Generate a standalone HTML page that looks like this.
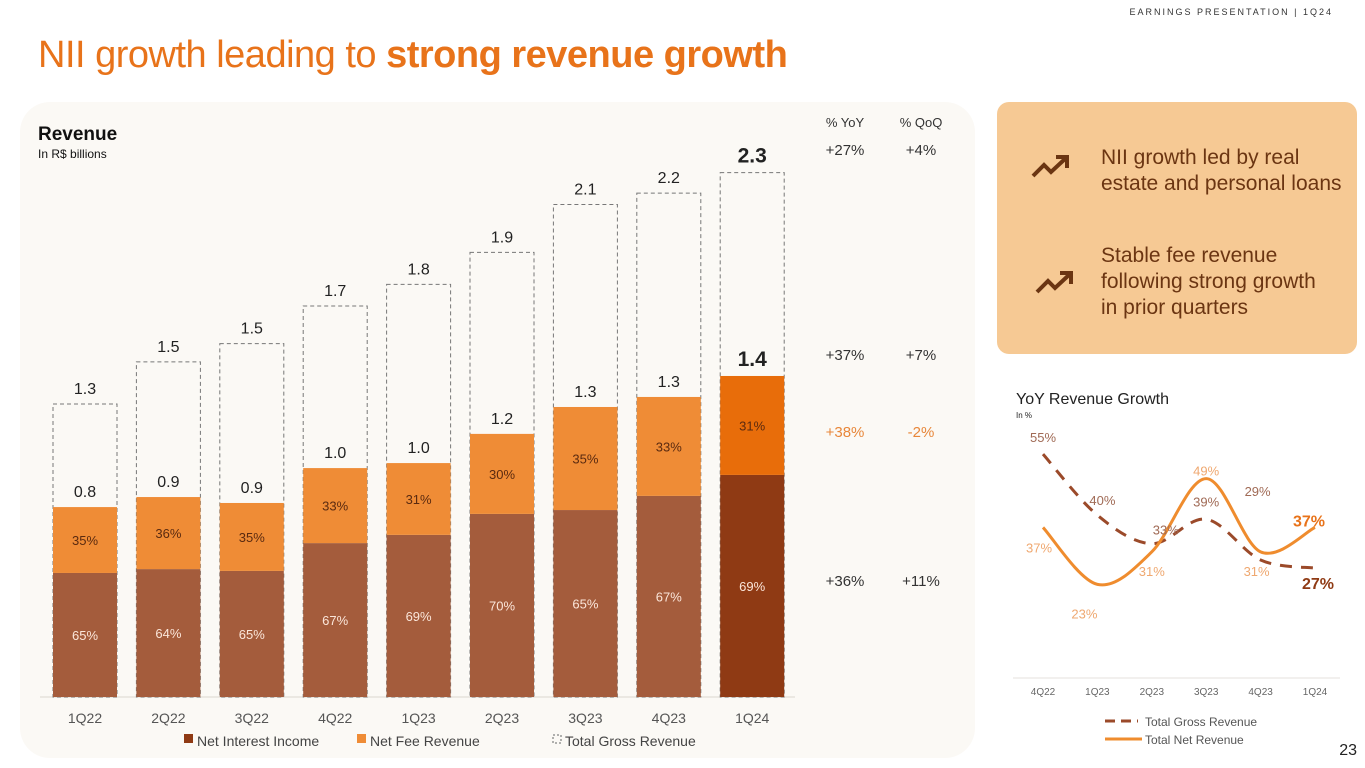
<!DOCTYPE html>
<html><head><meta charset="utf-8">
<style>
body{margin:0;width:1365px;height:768px;background:#fff;font-family:"Liberation Sans",sans-serif;position:relative;overflow:hidden}
.abs{position:absolute}
</style></head>
<body>
<div class="abs" style="right:32px;top:7px;font-size:9px;letter-spacing:2px;color:#333">EARNINGS PRESENTATION | 1Q24</div>
<div class="abs" style="left:38px;top:34px;font-size:38px;color:#e8731a;letter-spacing:-0.5px">NII growth leading to <b>strong revenue growth</b></div>
<div class="abs" style="left:20px;top:102px;width:955px;height:656px;background:#fbf9f5;border-radius:30px"></div>
<div class="abs" style="left:997px;top:102px;width:360px;height:252px;background:#f6c994;border-radius:12px;color:#6b3512;font-size:21px;line-height:26px">
 <svg class="abs" style="left:32px;top:50px" width="44" height="30"><path d="M4 24 L15 13 L22 20 L37 6 M27 5 L38 5 L38 16" fill="none" stroke="#6b3512" stroke-width="4"/></svg>
 <div class="abs" style="left:104px;top:43px">NII growth led by real<br>estate and personal loans</div>
 <svg class="abs" style="left:36px;top:166px" width="44" height="30"><path d="M4 24 L15 13 L22 20 L37 6 M27 5 L38 5 L38 16" fill="none" stroke="#6b3512" stroke-width="4"/></svg>
 <div class="abs" style="left:104px;top:141px">Stable fee revenue<br>following strong growth<br>in prior quarters</div>
</div>
<div class="abs" style="right:8px;top:742px;font-size:16px;color:#222">23</div>

<svg class="abs" style="left:0;top:0" width="1365" height="768" id="chart">
<text x="38" y="140" font-size="19" font-weight="bold" fill="#111">Revenue</text>
<text x="38" y="158" font-size="12" fill="#111">In R$ billions</text>
<g font-size="13" fill="#333" text-anchor="middle">
<text x="845" y="127">% YoY</text><text x="921" y="127">% QoQ</text>
<text x="845" y="155" font-size="15">+27%</text><text x="921" y="155" font-size="15">+4%</text>
<text x="845" y="360" font-size="15">+37%</text><text x="921" y="360" font-size="15">+7%</text>
<text x="845" y="437" font-size="15" fill="#e8873a">+38%</text><text x="921" y="437" font-size="15" fill="#e8873a">-2%</text>
<text x="845" y="586" font-size="15">+36%</text><text x="921" y="586" font-size="15">+11%</text>
</g>
<line x1="40" y1="697" x2="795" y2="697" stroke="#e6e2dc" stroke-width="1.5"/>
<g id="bars"></g>
<g font-size="14" fill="#444">
<rect x="184" y="734" width="9" height="9" fill="#8f3a14"/><text x="197" y="746">Net Interest Income</text>
<rect x="357" y="734" width="9" height="9" fill="#ef8c36"/><text x="370" y="746">Net Fee Revenue</text>
<rect x="553" y="735" width="8" height="8" fill="none" stroke="#666" stroke-dasharray="2,2"/><text x="565" y="746">Total Gross Revenue</text>
</g>
<text x="1016" y="404" font-size="16" fill="#222">YoY Revenue Growth</text>
<text x="1016" y="418" font-size="8" fill="#222">In %</text>
<line x1="1013" y1="678" x2="1340" y2="678" stroke="#e6e2dc"/>
<g id="lines"></g>
<line x1="1105" y1="721" x2="1138" y2="721" stroke="#9b4a2a" stroke-width="3" stroke-dasharray="10,6"/>
<text x="1145" y="726" font-size="12" fill="#555">Total Gross Revenue</text>
<line x1="1105" y1="739" x2="1142" y2="739" stroke="#ef8c2e" stroke-width="3"/>
<text x="1145" y="744" font-size="12" fill="#555">Total Net Revenue</text>
</svg>
<script>
const categories=["1Q22","2Q22","3Q22","4Q22","1Q23","2Q23","3Q23","4Q23","1Q24"];
const nii=[0.544,0.561,0.553,0.675,0.711,0.803,0.820,0.882,0.974];
const fee=[0.289,0.316,0.298,0.329,0.315,0.351,0.452,0.434,0.434];
const gross=[1.285,1.47,1.55,1.715,1.81,1.95,2.16,2.21,2.30];
const grossLabels=["1.3","1.5","1.5","1.7","1.8","1.9","2.1","2.2","2.3"];
const netLabels=["0.8","0.9","0.9","1.0","1.0","1.2","1.3","1.3","1.4"];
const niiPct=["65%","64%","65%","67%","69%","70%","65%","67%","69%"];
const feePct=["35%","36%","35%","33%","31%","30%","35%","33%","31%"];
const lineCats=["4Q22","1Q23","2Q23","3Q23","4Q23","1Q24"];
const grossGrowth=[55,40,33,39,29,27];
const netGrowth=[37,23,31,49,31,37];

const NS="http://www.w3.org/2000/svg";
function mk(tag,attrs,parent,txt){const e=document.createElementNS(NS,tag);for(const k in attrs)e.setAttribute(k,attrs[k]);if(txt!==undefined)e.textContent=txt;parent.appendChild(e);return e;}
const base=697,scale=228,x0=85,step=83.4,bw=64;
const xS=i=>x0+i*step, yS=v=>base-v*scale;
const bars=document.getElementById('bars');
categories.forEach((c,i)=>{
  const cx=xS(i),last=i===categories.length-1;
  const g=mk('rect',{x:cx-bw/2,y:yS(gross[i]),width:bw,height:gross[i]*scale,fill:'none',stroke:'#777','stroke-dasharray':'4,3','stroke-width':1},bars);
  
  
  const n=mk('rect',{x:cx-bw/2,y:yS(nii[i]),width:bw,height:nii[i]*scale,fill:last?'#8f3a14':'#a45c3c'},bars);
  
  
  const f=mk('rect',{x:cx-bw/2,y:yS(nii[i]+fee[i]),width:bw,height:fee[i]*scale,fill:last?'#e86d0a':'#ef8c36'},bars);
  
  
  mk('text',{x:cx,y:(yS(nii[i])+base)/2+5,'font-size':13,fill:'#fbe6da','text-anchor':'middle'},bars,niiPct[i]);
  mk('text',{x:cx,y:(yS(nii[i])+yS(nii[i]+fee[i]))/2+5,'font-size':13,fill:'#5a2a10','text-anchor':'middle'},bars,feePct[i]);
  mk('text',{x:cx,y:yS(nii[i]+fee[i])-10,'font-size':last?21:16,'font-weight':last?'bold':'normal',fill:'#222','text-anchor':'middle'},bars,netLabels[i]);
  mk('text',{x:cx,y:yS(gross[i])-10,'font-size':last?21:16,'font-weight':last?'bold':'normal',fill:'#222','text-anchor':'middle'},bars,grossLabels[i]);
  mk('text',{x:cx,y:723,'font-size':14,fill:'#555','text-anchor':'middle'},bars,c);
});
const lines=document.getElementById('lines');
const lx=i=>1043+i*54.4, ly=v=>678-v*4.07;
function smooth(vals){const p=vals.map((v,i)=>[lx(i),ly(v)]);let d='M'+p[0];for(let i=0;i<p.length-1;i++){const a=p[i-1]||p[i],b=p[i],c=p[i+1],e=p[i+2]||c;d+=` C${b[0]+(c[0]-a[0])/6},${b[1]+(c[1]-a[1])/6} ${c[0]-(e[0]-b[0])/6},${c[1]-(e[1]-b[1])/6} ${c[0]},${c[1]}`;}return d;}
const gp=mk('path',{d:smooth(grossGrowth),fill:'none',stroke:'#9b4a2a','stroke-width':3,'stroke-dasharray':'12,9'},lines);


const np=mk('path',{d:smooth(netGrowth),fill:'none',stroke:'#ef8c2e','stroke-width':3},lines);


const gOff=[[0,-12],[5,-10],[14,-9],[0,-13],[-3,-64],[3,21]], nOff=[[-4,25],[-13,34],[0,24],[0,-3],[-4,24],[-6,-1]];
lineCats.forEach((c,i)=>{
  const last=i===lineCats.length-1;
  mk('text',{x:lx(i)+gOff[i][0],y:ly(grossGrowth[i])+gOff[i][1],'font-size':last?16:13,'font-weight':last?'bold':'normal',fill:last?'#8f3a14':'#a06a55','text-anchor':'middle'},lines,grossGrowth[i]+'%');
  mk('text',{x:lx(i)+nOff[i][0],y:ly(netGrowth[i])+nOff[i][1],'font-size':last?16:13,'font-weight':last?'bold':'normal',fill:last?'#e8731a':'#efa870','text-anchor':'middle'},lines,netGrowth[i]+'%');
  mk('text',{x:lx(i),y:695,'font-size':10,fill:'#666','text-anchor':'middle'},lines,c);
});
</script>
</body></html>
